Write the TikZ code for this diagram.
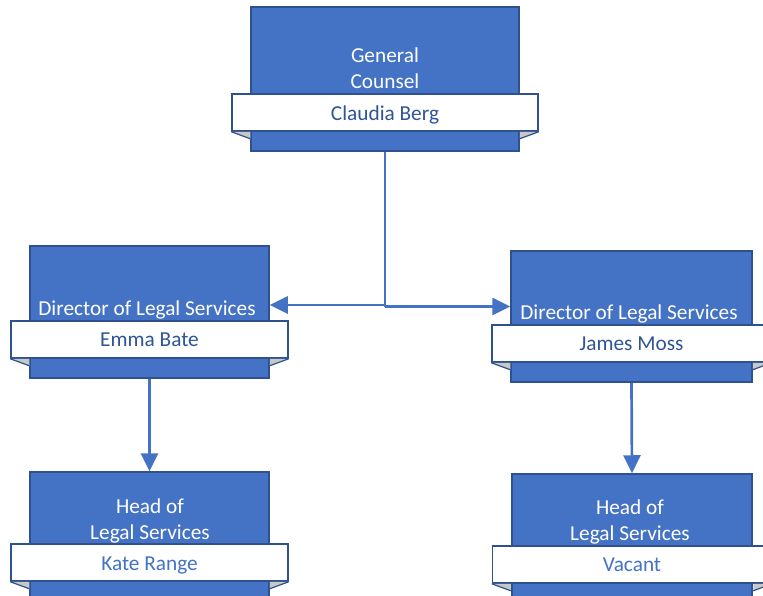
\documentclass[tikz,border=0pt]{standalone}
\usepackage{fontspec}
\setmainfont{Carlito}
\usetikzlibrary{arrows.meta}
\definecolor{boxfill}{RGB}{68,114,196}
\definecolor{boxline}{RGB}{47,82,143}
\definecolor{namecol}{RGB}{47,85,151}
\definecolor{namecol2}{RGB}{68,114,196}
\definecolor{foldgray}{RGB}{200,200,200}
\tikzset{
  rolebox/.style={draw=boxline, fill=boxfill, line width=1.5pt, inner sep=0pt},
  banner/.style={draw=boxline, fill=white, line width=1.5pt, inner sep=0pt, minimum height=37pt},
  titletext/.style={text=white, font=\fontsize{21.3}{26}\selectfont, align=center, anchor=base, inner sep=0pt},
  nametext/.style={font=\fontsize{21.3}{26}\selectfont, anchor=base, inner sep=0pt},
  link/.style={draw=boxfill, line width=2.7pt},
  arrowlink/.style={link, -{Triangle[length=18pt,width=17pt]}},
}
\newcommand{\folds}[2]{%
  \fill[foldgray] (#1.south west) -- ++(19,0) -- ++(0,7) -- cycle;
  \draw[boxline, line width=1.2pt] (#1.south west) -- ++(19,7);
  \fill[foldgray] (#1.south east) -- ++(-19,0) -- ++(0,7) -- cycle;
  \draw[boxline, line width=1.2pt] (#1.south east) -- ++(-19,7);
}
\begin{document}
\begin{tikzpicture}[x=1pt,y=-1pt]
\useasboundingbox (0,0) rectangle (763,595);
\clip (0,0) rectangle (763,595);
% boxes
\node[rolebox, minimum width=268pt, minimum height=144pt] (gc) at (385,79) {};
\node[rolebox, minimum width=239pt, minimum height=132pt] (dl) at (149.5,312) {};
\node[rolebox, minimum width=241pt, minimum height=131pt] (dr) at (631.5,316.5) {};
\node[rolebox, minimum width=239pt, minimum height=132pt] (hl) at (149.5,538) {};
\node[rolebox, minimum width=240pt, minimum height=132pt] (hr) at (632,540) {};
% connectors
\coordinate (jl) at (385,305);
\coordinate (jr) at (385,306.5);
\draw[link] (gc.south) -- (jr);
\draw[arrowlink] (gc.south) |- (dl.east |- jl);
\draw[arrowlink] (jr) -- (dr.west |- jr);
\draw[arrowlink] (dl.south) -- (hl.north);
\draw[arrowlink] (dr.south) -- (hr.north);
% banners
\node[banner, minimum width=306pt] (gcb) at (385,112.5) {};
\node[banner, minimum width=277pt] (dlb) at (149.5,339.5) {};
\node[banner, minimum width=279pt] (drb) at (631.5,343.5) {};
\node[banner, minimum width=277pt] (hlb) at (149.5,562.5) {};
\node[banner, minimum width=279pt] (hrb) at (632,564.5) {};
\folds{gcb}{}
\folds{dlb}{}
\folds{drb}{}
\folds{hlb}{}
\folds{hrb}{}
% titles
\node[titletext] (gct) at (385,88.5) {General\\Counsel};
\node[titletext] (dlt) at (147,315) {Director of Legal Services};
\node[titletext] (drt) at (629,319.3) {Director of Legal Services};
\node[titletext] (hlt) at (150,539) {Head of\\Legal Services};
\node[titletext] (hrt) at (630,540.5) {Head of\\Legal Services};
% names
\node[nametext, text=namecol] (gcn) at (385,120) {Claudia Berg};
\node[nametext, text=namecol] (dln) at (149.5,346.7) {Emma Bate};
\node[nametext, text=namecol] (drn) at (631.5,350.7) {James Moss};
\node[nametext, text=namecol2] (hln) at (149.5,570.7) {Kate Range};
\node[nametext, text=namecol2] (hrn) at (632,571.7) {Vacant};
\end{tikzpicture}
\end{document}
